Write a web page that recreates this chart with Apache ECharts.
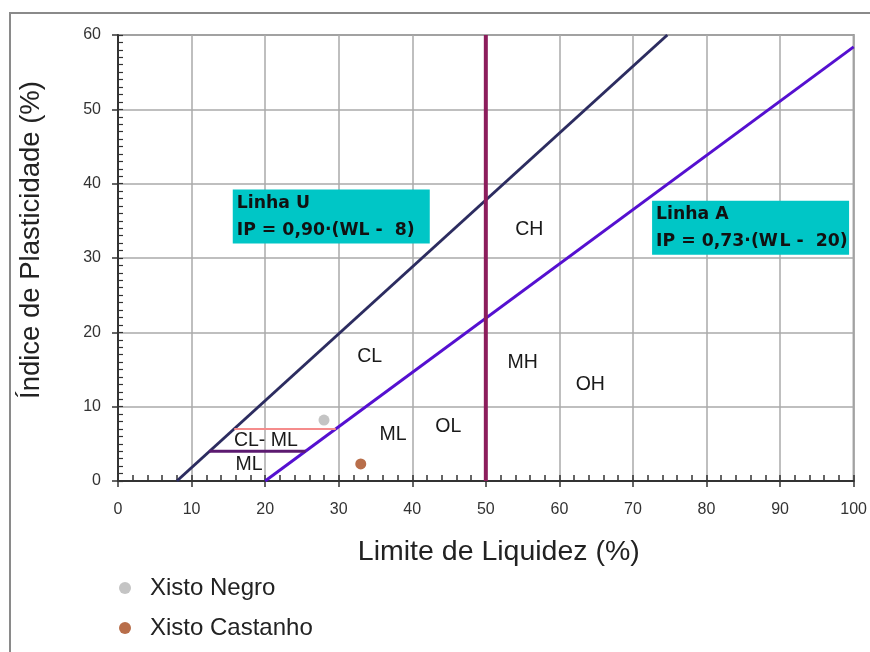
<!DOCTYPE html>
<html><head><meta charset="utf-8">
<script src="https://cdn.jsdelivr.net/npm/echarts@6/dist/echarts.min.js"></script>
<style>html,body{margin:0;padding:0;background:#fff}#c{width:870px;height:652px}</style>
</head><body><div id="c"></div>
<script>
var xTicks = [0,10,20,30,40,50,60,70,80,90,100];
var yTicks = [0,10,20,30,40,50,60];
var lineU = [[8,0],[74.67,60]];
var lineA = [[20,0],[100,58.4]];
var lineLL50 = [[50,0],[50,60]];
var lineCLML = [[15.8,7],[29.6,7]];
var lineML = [[12.4,4],[25.5,4]];
var xistoNegro = [[28,8.2]];
var xistoCastanho = [[33,2.3]];
var zoneNames = ['CH','CL','MH','OH','ML','OL','CL- ML','ML'];
var zonePos = [[55.9,33.8],[34.2,16.7],[55,15.9],[64.2,12.9],[37.4,6.2],[44.9,7.3],[20.1,5.4],[17.8,2.2]];
var boxU = {pos:[15.6,39.2], title:'Linha U', eq:'IP = 0,90·(WL -  8)'};
var boxA = {pos:[72.6,37.7], title:'Linha A', eq:'IP = 0,73·(W\u200AL -  20)'};

var font = 'Liberation Sans, Arial, sans-serif';
function seg(name, data, color, w){
  return {type:'line', name:name, data:data, symbol:'none', silent:true,
    lineStyle:{color:color, width:w}, z:3, xAxisIndex:0, yAxisIndex:0};
}
function box(b){
  return {type:'scatter', data:[b.pos], symbolSize:0, silent:true, z:6,
    itemStyle:{opacity:1},
    label:{show:true, position:[0,0], align:'left', verticalAlign:'top',
      formatter:'{a|'+b.title+'}\n{b|'+b.eq+'}',
      backgroundColor:'#00C6C6', padding:[0,4,0,4],
      rich:{
        a:{fontFamily:'DejaVu Sans', fontWeight:'bold', fontSize:17.3, lineHeight:27, color:'#111', width:189},
        b:{fontFamily:'DejaVu Sans', fontWeight:'bold', fontSize:17.3, lineHeight:27, color:'#111', width:189}
      }}};
}
var chart = echarts.init(document.getElementById('c'));
chart.setOption({
  backgroundColor:'#fff',
  animation:false,
  textStyle:{fontFamily:font},
  graphic:[{type:'rect', shape:{x:10,y:13,width:900,height:700}, style:{fill:'none', stroke:'#8a8a8a', lineWidth:2}, z:-10}],
  grid:{left:118, right:15, top:35, bottom:171, show:true, borderColor:'#8a8a8a', borderWidth:2, backgroundColor:'transparent'},
  legend:{orient:'vertical', left:114, top:571, itemGap:16, itemWidth:12, itemHeight:12, icon:'circle',
    textStyle:{fontFamily:font, fontSize:24, color:'#222', padding:[0,0,0,14]},
    data:['Xisto Negro','Xisto Castanho']},
  xAxis:[{type:'value', min:0, max:100, interval:10,
      name:'Limite de Liquidez (%)', nameLocation:'middle', nameGap:57,
      nameTextStyle:{fontFamily:font, fontSize:28.5, color:'#222', padding:[0,0,0,26]},
      axisLine:{show:true, onZero:false, lineStyle:{color:'#333', width:2}},
      axisTick:{show:true, inside:false, length:6, lineStyle:{color:'#333', width:1.5}},
      axisLabel:{fontSize:16, color:'#333', margin:21, fontFamily:font},
      splitLine:{show:true, lineStyle:{color:'#aaaaaa', width:1.5}}},
    {type:'value', min:0, max:100, interval:2, position:'bottom',
      axisLine:{show:false}, axisLabel:{show:false}, splitLine:{show:false},
      axisTick:{show:true, inside:true, length:6, lineStyle:{color:'#333', width:1.5}}}],
  yAxis:[{type:'value', min:0, max:60, interval:10,
      name:'Índice de Plasticidade (%)', nameLocation:'middle', nameGap:73, nameRotate:90,
      nameTextStyle:{fontFamily:font, fontSize:27.5, color:'#222', padding:[0,0,0,36]},
      axisLine:{show:true, onZero:false, lineStyle:{color:'#333', width:2}},
      axisTick:{show:true, inside:false, length:6, lineStyle:{color:'#333', width:1.5}},
      axisLabel:{fontSize:16, color:'#333', margin:17, fontFamily:font},
      splitLine:{show:true, lineStyle:{color:'#aaaaaa', width:1.5}}},
    {type:'value', min:0, max:60, interval:1, position:'left',
      axisLine:{show:false}, axisLabel:{show:false}, splitLine:{show:false},
      axisTick:{show:true, inside:true, length:5, lineStyle:{color:'#333', width:1.2}}}],
  series:[
    seg('U', lineU, '#2c2c60', 3),
    seg('A', lineA, '#5510d0', 3),
    seg('LL50', lineLL50, '#8c1d5c', 4),
    seg('CLML', lineCLML, '#f58c8c', 2),
    seg('ML', lineML, '#5c1a70', 3),
    {type:'scatter', name:'Zones', data:zonePos.map(function(p,i){return {value:p, name:zoneNames[i]};}),
      symbolSize:0, silent:true, z:5, itemStyle:{opacity:1},
      label:{show:true, position:'inside', formatter:'{b}', fontFamily:font, fontSize:19.5, color:'#1a1a1a'}},
    box(boxU), box(boxA),
    {type:'scatter', name:'Xisto Negro', data:xistoNegro, symbolSize:11, itemStyle:{color:'#c4c4c4', opacity:1}, z:7},
    {type:'scatter', name:'Xisto Castanho', data:xistoCastanho, symbolSize:11, itemStyle:{color:'#b86e4a', opacity:1}, z:7}
  ]
});
</script></body></html>
